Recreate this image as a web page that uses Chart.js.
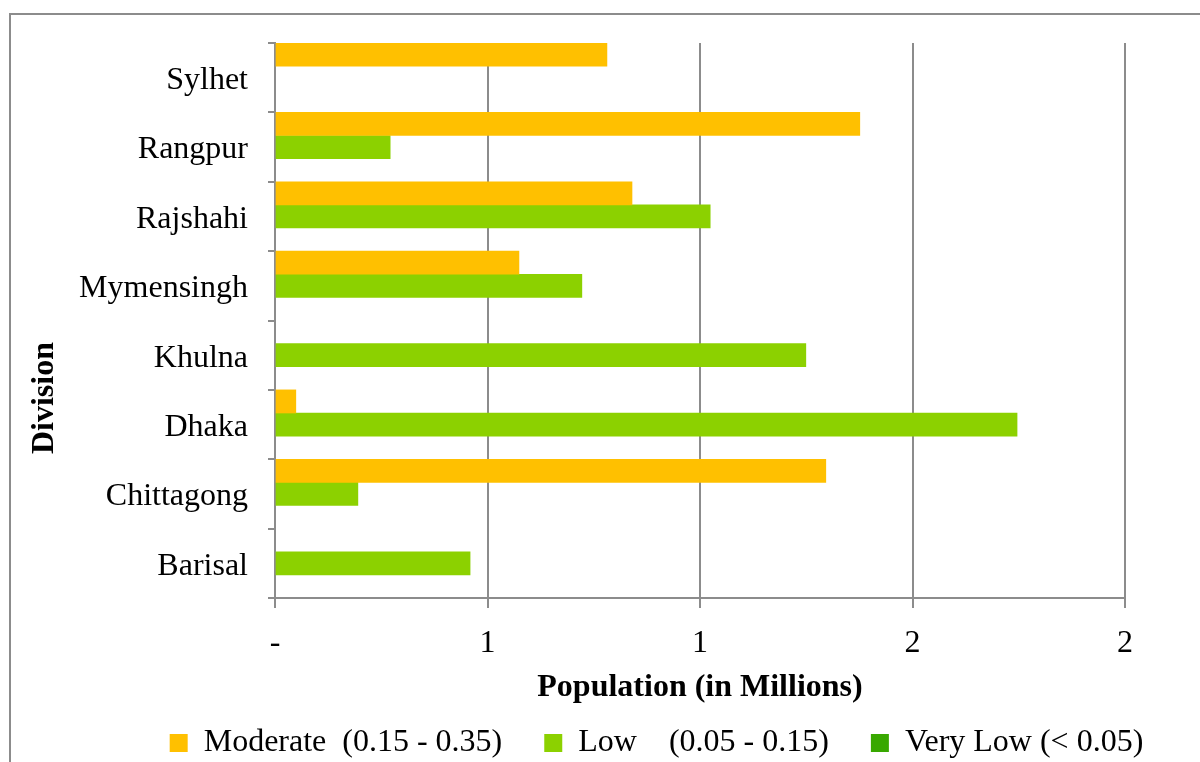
<!DOCTYPE html>
<html>
<head>
<meta charset="utf-8">
<script src="https://cdn.jsdelivr.net/npm/chart.js@4.4.0/dist/chart.umd.min.js"></script>
<style>
  html, body { margin: 0; padding: 0; background: #fff; }
  #wrap { width: 1200px; height: 762px; }
</style>
</head>
<body>
<div id="wrap"><canvas id="divChart" width="1200" height="762"></canvas></div>
<script>
// divisions, top to bottom
var divisions = ['Sylhet', 'Rangpur', 'Rajshahi', 'Mymensingh', 'Khulna', 'Dhaka', 'Chittagong', 'Barisal']

// population in millions per exposure class
var moderate = [0.781, 1.376, 0.84, 0.574, null, 0.049, 1.296, null]
var low = [null, 0.271, 1.024, 0.722, 1.249, 1.746, 0.195, 0.459]
var veryLow = [null, null, null, null, null, null, null, null]

// trailing spaces widen the gap between legend entries
var seriesNames = ['Moderate  (0.15 - 0.35)    ', 'Low    (0.05 - 0.15)    ', 'Very Low (< 0.05)']
var tickLabels = ['-', '1', '1', '2', '2']

var gray = '#8c8c8c'
var serif = 'Liberation Serif'

// frame around the whole figure, the category axis title, legend nudge
const frame = {
  id: 'frame',
  afterLayout(chart) {
    const lg = chart.legend
    lg.left += 94
    lg.right += 94
    lg.top += 3
    lg.bottom += 3
  },
  beforeDraw(chart) {
    const c = chart.ctx
    c.save()
    c.strokeStyle = gray
    c.lineWidth = 2
    c.strokeRect(10, 14, 1300, 900)
    c.restore()
  },
  afterDraw(chart) {
    const c = chart.ctx
    c.save()
    c.translate(45, 398)
    c.rotate(-Math.PI / 2)
    c.fillStyle = '#000'
    c.font = 'bold 32px "Liberation Serif"'
    c.textAlign = 'center'
    c.textBaseline = 'middle'
    c.fillText('Division', 0, 0)
    c.restore()
  }
}

const ctx = document.getElementById('divChart')

new Chart(ctx, {
  type: 'bar',
  data: {
    labels: divisions,
    datasets: [{
      label: seriesNames[0],
      data: moderate,
      backgroundColor: '#FFC000'
    }, {
      label: seriesNames[1],
      data: low,
      backgroundColor: '#8CD100'
    }, {
      label: seriesNames[2],
      data: veryLow,
      backgroundColor: '#38A800'
    }]
  },
  options: {
    indexAxis: 'y',
    responsive: false,
    animation: false,
    categoryPercentage: 1,
    barPercentage: 1,
    layout: {
      padding: { top: 43, right: 75, left: 0, bottom: -4 }
    },
    plugins: {
      tooltip: { enabled: false },
      legend: {
        position: 'bottom',
        labels: {
          color: '#000',
          font: { family: serif, size: 32 },
          boxWidth: 18,
          boxHeight: 18,
          padding: 10
        }
      }
    },
    scales: {
      x: {
        min: 0,
        max: 2,
        ticks: {
          stepSize: 0.5,
          color: '#000',
          font: { family: serif, size: 32 },
          padding: 16,
          callback: (v, i) => tickLabels[i]
        },
        grid: {
          color: gray,
          lineWidth: 2,
          tickLength: 10
        },
        border: { color: gray, width: 2 },
        title: {
          display: true,
          text: 'Population (in Millions)',
          color: '#000',
          font: { family: serif, size: 32, weight: 'bold' },
          padding: { top: 4, bottom: 7 }
        },
        afterFit(scale) {
          scale.height = 116
        }
      },
      y: {
        ticks: {
          color: '#000',
          font: { family: serif, size: 32 },
          padding: 20,
          labelOffset: 3
        },
        grid: {
          offset: true,
          drawOnChartArea: false,
          color: gray,
          lineWidth: 2,
          tickLength: 7
        },
        border: { color: gray, width: 2 },
        afterFit(scale) {
          scale.width = 275
        }
      }
    }
  },
  plugins: [frame]
})
</script>
</body>
</html>
